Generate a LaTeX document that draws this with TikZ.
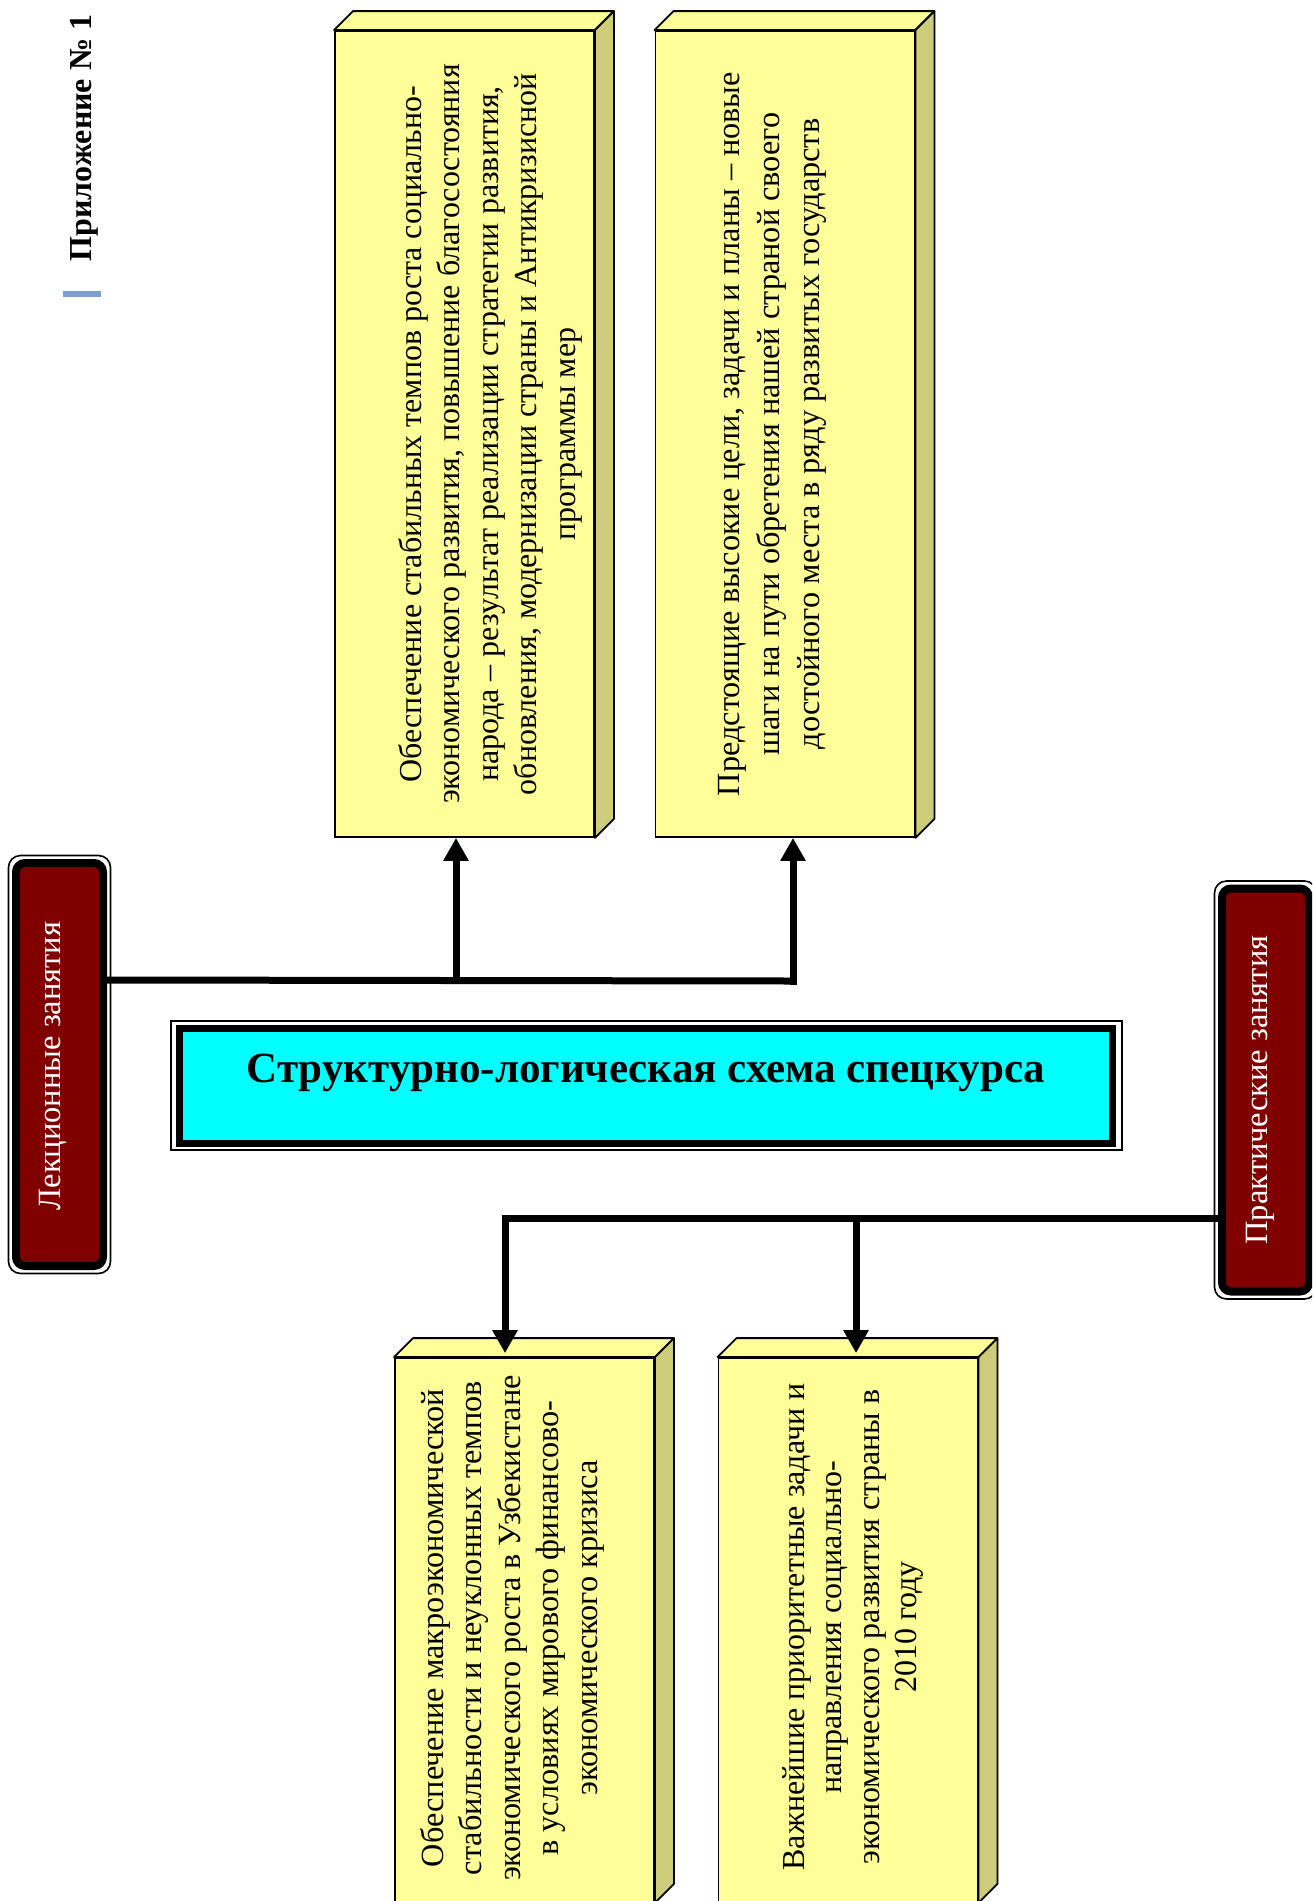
\documentclass[tikz,border=0pt]{standalone}
\usepackage{fontspec}
\setmainfont{Liberation Serif}
\usetikzlibrary{arrows.meta}
\definecolor{ylw}{HTML}{FFFF99}
\definecolor{yside}{HTML}{CCCC7A}
\definecolor{maroonbox}{HTML}{800000}
\definecolor{cyanbox}{HTML}{00FFFF}
\definecolor{markblue}{HTML}{7BA0CD}
\tikzset{
  frontface/.style={draw=black, line width=1.8pt, fill=ylw, inner sep=0pt, minimum width=259pt, minimum height=806pt},
  boxtext/.style={rotate=90, align=center, inner sep=0pt, font=\fontsize{32}{38.5}\selectfont},
  lecbox/.style={draw=black, line width=8pt, fill=maroonbox, rounded corners=9pt, inner sep=0pt, minimum width=87pt, minimum height=403pt},
  outerline/.style={draw=black, line width=1.6pt, rounded corners=12pt},
  labeltext/.style={rotate=90, text=white, inner sep=0pt, font=\fontsize{32.5}{38}\selectfont},
  conn/.style={line width=7pt},
  arr/.style={line width=7pt, -{Triangle[length=23pt,width=24pt]}},
}
\newcommand\threedsides[1]{%
  \filldraw[fill=ylw, line width=1.8pt, line join=round]
    (#1.north west) -- ([shift={(19,-19)}]#1.north west) -- ([shift={(19,-19)}]#1.north east) -- (#1.north east) -- cycle;
  \filldraw[fill=yside, line width=1.8pt, line join=round]
    (#1.north east) -- ([shift={(19,-19)}]#1.north east) -- ([shift={(19,-19)}]#1.south east) -- (#1.south east) -- cycle;
}
\begin{document}
\begin{tikzpicture}[x=1pt, y=-1pt]
\useasboundingbox (0,0) rectangle (1312,1901);
\clip (0,0) rectangle (1312,1901);

% header
\node[rotate=90, inner sep=0pt, font=\bfseries\fontsize{32}{36}\selectfont] (hdr) at (84,138) {Приложение № 1};
\fill[markblue] (63,291) rectangle (101,297);

% top boxes
\node[frontface] (b1) at (464.5,434) {};
\threedsides{b1}
\node[boxtext] (b1t) at (490,434) {Обеспечение стабильных темпов роста социально-\\экономического развития, повышение благосостояния\\народа – результат реализации стратегии развития,\\обновления, модернизации страны и Антикризисной\\программы мер};

\node[frontface] (b2) at (785,434) {};
\threedsides{b2}
\node[boxtext, font=\fontsize{32.3}{40}\selectfont] (b2t) at (772,434) {Предстоящие высокие цели, задачи и планы – новые\\шаги на пути обретения нашей страной своего\\достойного места в ряду развитых государств};

% bottom boxes
\node[frontface, minimum height=544pt] (b3) at (524.5,1630) {};
\threedsides{b3}
\node[boxtext, font=\fontsize{32.3}{38.5}\selectfont] (b3t) at (512,1628) {Обеспечение макроэкономической\\стабильности и неуклонных темпов\\экономического роста в Узбекистане\\в условиях мирового финансово-\\экономического кризиса};

\node[frontface, minimum height=544pt] (b4) at (848,1630) {};
\threedsides{b4}
\node[boxtext, font=\fontsize{32}{37.5}\selectfont] (b4t) at (853,1627) {Важнейшие приоритетные задачи и\\направления социально-\\экономического развития страны в\\2010 году};

% lecture box
\node[lecbox] (lec) at (59.5,1064.5) {};
\draw[outerline] ([shift={(-3.5,-3.5)}]lec.north west) rectangle ([shift={(3.5,3.5)}]lec.south east);
\node[labeltext] (lect) at (53,1066) {Лекционные занятия};

% practical box
\node[lecbox] (prac) at (1265.5,1090) {};
\draw[outerline] ([shift={(-3.5,-3.5)}]prac.north west) rectangle ([shift={(3.5,3.5)}]prac.south east);
\node[labeltext] (pract) at (1260,1090) {Практические занятия};

% title box
\draw[line width=1.6pt] (171,1021) rectangle (1122,1150);
\node[draw=black, line width=7pt, fill=cyanbox, inner sep=0pt, minimum width=933pt, minimum height=115pt] (title) at (646,1085.5) {};
\node[inner sep=0pt, font=\bfseries\fontsize{43}{47}\selectfont] (titlet) at (646,1073) {Структурно-логическая схема спецкурса};

% upper connectors
\coordinate (j1) at (456,980);
\coordinate (j2) at (793,981);
\draw[conn] (lec.east |- j1) -- (j2);
\draw[arr] (j1) -- (j1 |- b1.south);
\draw[arr] ([yshift=-3.5pt]j2) -- (j2 |- b2.south);

% lower connectors
\coordinate (k1) at (505,1218);
\coordinate (k2) at (856,1218);
\draw[conn] ([xshift=-3.5pt]k1) -- (prac.west |- k1);
\draw[arr] ([yshift=-3.5pt]k1) -- ([yshift=4pt]k1 |- b3.north);
\draw[arr] (k2) -- ([yshift=4pt]k2 |- b4.north);
\end{tikzpicture}
\end{document}
